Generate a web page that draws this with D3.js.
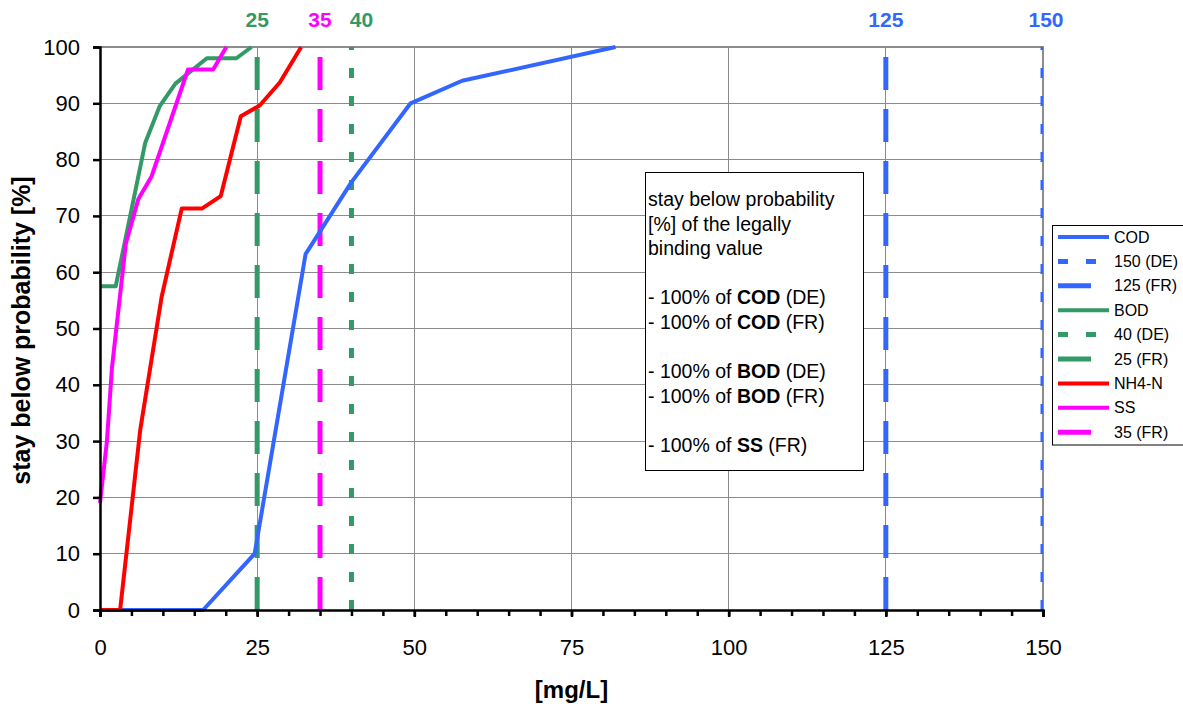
<!DOCTYPE html>
<html>
<head>
<meta charset="utf-8">
<script src="https://cdn.jsdelivr.net/npm/d3@7"></script>
<style>
  html, body { margin: 0; padding: 0; background: #fff; }
  svg { display: block; font-family: "Liberation Sans", Arial, sans-serif; }
</style>
</head>
<body>
<svg id="chart" width="1183" height="706"></svg>
<script>
// ---------- data ----------
const codX = [0, 16.4, 24.6, 32.7, 40, 49.4, 57.6, 82.0];
const codY = [0, 0, 10, 63.2, 76, 90, 94, 100];

const bodX = [0, 2.5, 7.2, 9.5, 12, 17, 21.7, 24.1];
const bodY = [57.5, 57.5, 83, 89.5, 93.5, 98, 98, 100];

const nh4X = [0, 3.2, 6.4, 9.8, 13, 16.2, 19.2, 22.4, 25.4, 28.6, 32];
const nh4Y = [0, 0, 32, 55.6, 71.3, 71.3, 73.5, 87.7, 89.6, 93.7, 100];

const ssX = [0, 1.1, 1.9, 4.1, 6.1, 8.2, 14, 18, 20.1];
const ssY = [19, 30, 43, 65, 73, 77, 96, 96, 100];

const limitNames = ["150 (DE)", "125 (FR)", "40 (DE)", "25 (FR)", "35 (FR)"];
const limitValues = [150, 125, 40, 25, 35];
const limitLabels = ["150", "125", "40", "25", "35"];

const xTicks = [0, 25, 50, 75, 100, 125, 150];
const yTicks = [0, 10, 20, 30, 40, 50, 60, 70, 80, 90, 100];

const legendNames = ["COD", "150 (DE)", "125 (FR)", "BOD", "40 (DE)", "25 (FR)", "NH4-N", "SS", "35 (FR)"];

const noteLines = [
  [["stay below probability", false]],
  [["[%] of the legally", false]],
  [["binding value", false]],
  [],
  [["- 100% of ", false], ["COD", true], [" (DE)", false]],
  [["- 100% of ", false], ["COD", true], [" (FR)", false]],
  [],
  [["- 100% of ", false], ["BOD", true], [" (DE)", false]],
  [["- 100% of ", false], ["BOD", true], [" (FR)", false]],
  [],
  [["- 100% of ", false], ["SS", true], [" (FR)", false]]
];

// ---------- styles ----------
const BLUE = "#3366FF", GREEN = "#339966", RED = "#FF0000", MAG = "#FF00FF";
const LONG = "33,19", SHORT = "10,18";

const series = [
  {name: "COD", xs: codX, ys: codY, color: BLUE},
  {name: "BOD", xs: bodX, ys: bodY, color: GREEN},
  {name: "NH4-N", xs: nh4X, ys: nh4Y, color: RED},
  {name: "SS", xs: ssX, ys: ssY, color: MAG}
];
const limitStyle = {
  "150 (DE)": {color: BLUE, dash: SHORT, dx: 3},
  "125 (FR)": {color: BLUE, dash: LONG, dx: 0},
  "40 (DE)": {color: GREEN, dash: SHORT, dx: 10},
  "25 (FR)": {color: GREEN, dash: LONG, dx: 0},
  "35 (FR)": {color: MAG, dash: LONG, dx: 0}
};

const svg = d3.select("#chart");
const L = 100, R = 1043, T = 47, B = 610;
const x = d3.scaleLinear().domain([0, 150]).range([L, R]);
const y = d3.scaleLinear().domain([0, 100]).range([B, T]);

// clip
svg.append("defs").append("clipPath").attr("id", "plotclip")
  .append("rect").attr("x", L).attr("y", T - 3).attr("width", R - L).attr("height", B - T + 6);

// gridlines
const grid = svg.append("g");
grid.selectAll("line.h").data(yTicks.filter(d => d > 0 && d < 100)).enter().append("line")
  .attr("x1", L).attr("x2", R).attr("y1", d => y(d)).attr("y2", d => y(d))
  .attr("stroke", "#8c8c8c").attr("stroke-width", 1).attr("shape-rendering", "crispEdges");
grid.selectAll("line.v").data(xTicks.filter(d => d > 0 && d < 150)).enter().append("line")
  .attr("x1", d => x(d)).attr("x2", d => x(d)).attr("y1", T).attr("y2", B)
  .attr("stroke", "#8c8c8c").attr("stroke-width", 1).attr("shape-rendering", "crispEdges");
// plot border top/right
svg.append("path").attr("d", `M${L},${T}H${R}V${B}`).attr("fill", "none")
  .attr("stroke", "#8c8c8c").attr("stroke-width", 2);

// limit lines
const plot = svg.append("g").attr("clip-path", "url(#plotclip)");
limitNames.forEach((n, i) => {
  const st = limitStyle[n];
  plot.append("line")
    .attr("x1", x(limitValues[i])).attr("x2", x(limitValues[i]))
    .attr("y1", y(0)).attr("y2", y(100))
    .attr("stroke", st.color).attr("stroke-width", 5)
    .attr("stroke-dasharray", st.dash);
});

// series
const line = d3.line().x(d => x(d[0])).y(d => y(d[1]));
series.forEach(s => {
  const pts = s.xs.map((v, i) => [v, s.ys[i]]);
  svg.append("path").datum(pts).attr("d", line)
    .attr("fill", "none").attr("stroke", s.color).attr("stroke-width", 4)
    .attr("stroke-linejoin", "round");
});

// axes
const xAxis = svg.append("g").attr("transform", `translate(0,${B})`)
  .call(d3.axisBottom(x).tickValues(xTicks).tickSize(7).tickPadding(22).tickFormat(d3.format("d")));
const xMinor = svg.append("g").attr("transform", `translate(0,${B})`)
  .call(d3.axisBottom(x).tickValues(d3.range(0, 151, 5)).tickSize(6).tickFormat(""));
xMinor.select(".domain").remove();
const yAxis = svg.append("g").attr("transform", `translate(${L},0)`)
  .call(d3.axisLeft(y).tickValues(yTicks).tickSize(7).tickPadding(13).tickFormat(d3.format("d")));
[xAxis, yAxis, xMinor].forEach(a => {
  a.select(".domain").attr("stroke", "#000").attr("stroke-width", 2.5);
  a.selectAll(".tick line").attr("stroke", "#000").attr("stroke-width", 2.5);
  a.selectAll(".tick text").attr("fill", "#000").style("font-size", "22px")
    .style("font-family", '"Liberation Sans", Arial, sans-serif');
});

// axis titles
svg.append("text").attr("x", x(75)).attr("y", 698).attr("text-anchor", "middle")
  .style("font-size", "24px").style("font-weight", "bold").text("[mg/L]");
svg.append("text").attr("transform", `translate(30,${(T + B) / 2 + 2}) rotate(-90)`)
  .attr("text-anchor", "middle").style("font-size", "25px").style("font-weight", "bold")
  .text("stay below probability [%]");

// top labels
limitNames.forEach((n, i) => {
  const st = limitStyle[n];
  svg.append("text").attr("x", x(limitValues[i]) + st.dx).attr("y", 27)
    .attr("text-anchor", "middle").attr("fill", st.color)
    .style("font-size", "21px").style("font-weight", "bold").text(limitLabels[i]);
});

// note box
const nb = svg.append("g");
nb.append("rect").attr("x", 645.5).attr("y", 172.5).attr("width", 218).attr("height", 298)
  .attr("fill", "#fff").attr("stroke", "#000").attr("stroke-width", 1);
noteLines.forEach((segs, i) => {
  const t = nb.append("text").attr("x", 648).attr("y", 206 + i * 24.6).style("font-size", "19.5px");
  segs.forEach(sg => t.append("tspan").style("font-weight", sg[1] ? "bold" : "normal").text(sg[0]));
});

// legend
const lg = svg.append("g");
lg.append("rect").attr("x", 1052.5).attr("y", 225.5).attr("width", 140).attr("height", 219.5)
  .attr("fill", "#fff").attr("stroke", "#000").attr("stroke-width", 1);
legendNames.forEach((n, i) => {
  const yy = 237 + i * 24.4;
  const s = series.find(d => d.name === n);
  const st = limitStyle[n];
  lg.append("line").attr("x1", 1058).attr("x2", 1109).attr("y1", yy).attr("y2", yy)
    .attr("stroke", s ? s.color : st.color).attr("stroke-width", s ? 4 : 5)
    .attr("stroke-dasharray", s ? null : st.dash);
  lg.append("text").attr("x", 1114).attr("y", yy + 5.5).style("font-size", "16px").text(n);
});
</script>
</body>
</html>
